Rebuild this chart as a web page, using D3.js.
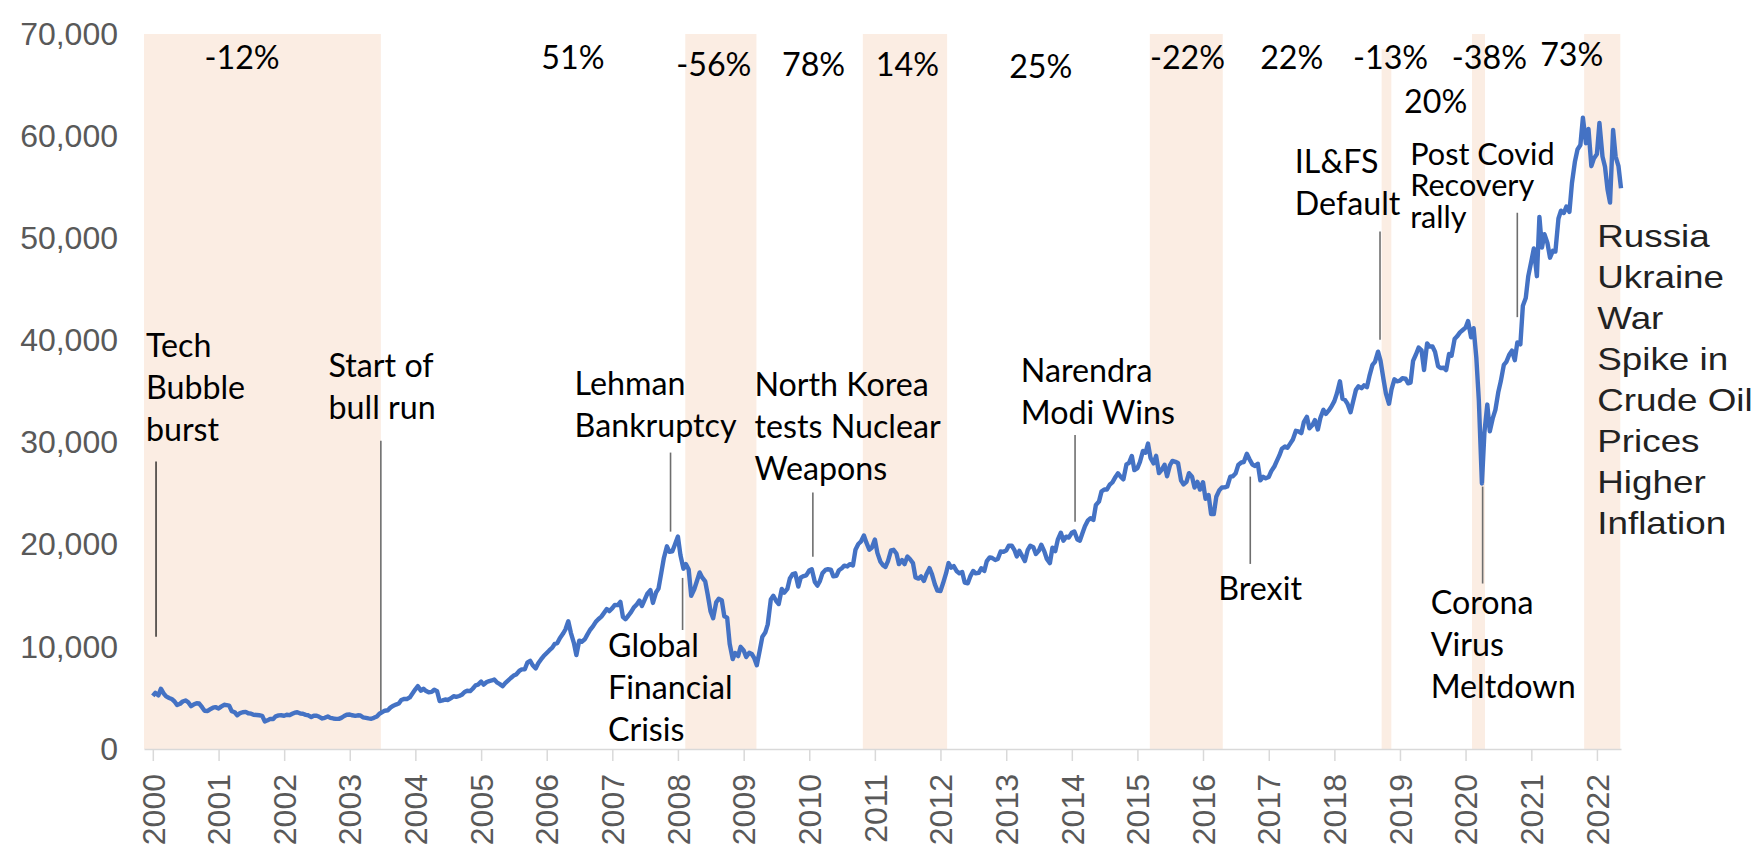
<!DOCTYPE html>
<html>
<head>
<meta charset="utf-8">
<script src="https://cdn.jsdelivr.net/npm/d3@7"></script>
<style>
  body { margin: 0; background: #fff; }
  svg { display: block; background: #fff; }
  .axis text { font-family: "Liberation Sans", Arial, sans-serif; fill: #595959; }
  .note { font-family: Lato, "Open Sans", sans-serif; fill: #000; }
</style>
</head>
<body>
<svg id="chart" width="1759" height="845"></svg>
<script>
// Sensex level on the 1st and 15th of every month, Jan 2000 .. May 2022
var sensex = [
  // 2000
  5200, 5500, 5250, 5900, 5450, 5150, 5000, 4900, 4650, 4300, 4430, 4650, 4750, 4600, 4200, 4350, 4480, 4450, 4090, 3750, 3710, 3900, 4040, 4100,
  // 2001
  3970, 4150, 4330, 4300, 4250, 3700, 3600, 3300, 3520, 3600, 3630, 3500, 3460, 3350, 3330, 3300, 3250, 2700, 2810, 2950, 2940, 3200, 3290, 3300,
  // 2002
  3260, 3350, 3310, 3450, 3560, 3600, 3470, 3450, 3340, 3300, 3130, 3250, 3250, 3150, 2990, 3050, 3180, 3050, 2990, 2950, 2950, 3050, 3230, 3350,
  // 2003
  3380, 3300, 3250, 3300, 3280, 3100, 3050, 3000, 2960, 3050, 3180, 3450, 3610, 3750, 3790, 4050, 4240, 4350, 4450, 4800, 4910, 4900, 5050, 5400,
  // 2004
  5840, 6150, 5700, 5900, 5670, 5550, 5590, 5800, 5660, 4700, 4760, 4850, 4800, 4950, 5170, 5100, 5190, 5300, 5580, 5700, 5670, 5900, 6230, 6300,
  // 2005
  6600, 6300, 6560, 6650, 6710, 6800, 6490, 6350, 6150, 6450, 6720, 6950, 7190, 7300, 7640, 7800, 7810, 8450, 8630, 8200, 7890, 8400, 8790, 9100,
  // 2006
  9400, 9650, 9920, 10300, 10370, 10850, 11280, 11700, 12500, 11400, 10400, 9200, 10610, 10500, 10740, 11200, 11700, 12000, 12450, 12700, 12960, 13300, 13700, 13500,
  // 2007
  13790, 14100, 14090, 14400, 12940, 12700, 13070, 13400, 13870, 14100, 14540, 14000, 14650, 15200, 15550, 14300, 15320, 15700, 17290, 18700, 19840, 19300, 19360, 20000,
  // 2008
  20800, 19000, 17650, 18100, 17580, 15000, 15640, 16400, 17290, 16800, 16420, 15100, 13460, 12800, 14360, 14700, 14570, 13000, 12860, 10300, 8800, 9400, 9100, 10000,
  // 2009
  9650, 9000, 9420, 9300, 8890, 8200, 9710, 11000, 11400, 12200, 14630, 15000, 14490, 14200, 15670, 15300, 15670, 16700, 17130, 17200, 15900, 16800, 16930, 17000,
  // 2010
  17470, 17600, 16360, 16000, 16430, 17200, 17530, 17600, 17560, 16900, 16950, 17500, 17700, 17950, 17870, 18100, 17970, 19500, 20070, 20300, 20900, 20200, 19520, 19700,
  // 2011
  20510, 19200, 18330, 18000, 17820, 18400, 19450, 19500, 19140, 18100, 18500, 18100, 18850, 18600, 18200, 16800, 16680, 16900, 16450, 17100, 17710, 17100, 16120, 15500,
  // 2012
  15460, 16200, 17190, 18200, 17750, 17900, 17400, 17200, 17320, 16300, 16220, 16900, 17430, 17200, 17240, 17700, 17430, 18400, 18760, 18700, 18500, 18600, 19340, 19300,
  // 2013
  19430, 19900, 19900, 19500, 18860, 19400, 18840, 18400, 19500, 19900, 19760, 19100, 19400, 20000, 19350, 18600, 18200, 19700, 19380, 20500, 21170, 20400, 20790, 20700,
  // 2014
  21170, 21300, 20510, 20400, 21120, 21800, 22390, 22600, 22420, 23900, 24220, 25200, 25410, 25400, 25900, 26100, 26640, 27000, 26630, 26400, 27870, 28000, 28690, 27300,
  // 2015
  27500, 28100, 29180, 29000, 29900, 28500, 27960, 28700, 27010, 27300, 27830, 26700, 27780, 28200, 28110, 28000, 26280, 25900, 26150, 27000, 26660, 25600, 26150, 25400,
  // 2016
  26120, 24500, 24870, 23000, 23000, 24700, 25340, 25600, 25610, 25700, 26670, 26700, 27000, 27800, 28050, 28100, 28900, 28400, 27870, 27700, 27930, 26300, 26650, 26500,
  // 2017
  26630, 27200, 27660, 28200, 28740, 29400, 29620, 29500, 29920, 30300, 31150, 31100, 30920, 32000, 32520, 31400, 31730, 32200, 31280, 32400, 33210, 32800, 33150, 33500,
  // 2018
  34060, 34800, 36000, 34300, 34180, 33800, 32970, 34000, 35160, 35500, 35320, 35600, 35420, 36500, 37610, 37900, 38900, 38000, 36230, 34800, 33800, 35200, 36190, 36000,
  // 2019
  36070, 36300, 36260, 35800, 35870, 38000, 38670, 39300, 39030, 37100, 39710, 39400, 39400, 38900, 37480, 37300, 37330, 37100, 38670, 38500, 40130, 40400, 40790, 41000,
  // 2020
  41250, 41900, 40300, 41200, 38300, 34100, 26000, 31000, 33720, 31100, 32420, 33200, 34920, 36000, 37610, 37900, 38630, 39000, 38070, 39800, 39610, 43400, 44150, 46300,
  // 2021
  47750, 49000, 46290, 52100, 49100, 50400, 49510, 48100, 48780, 48700, 51940, 52700, 52480, 53100, 52590, 55400, 57550, 58700, 59130, 61800, 59310, 60700, 57060, 57800,
  // 2022
  58250, 61300, 58010, 57000, 54800, 53500, 60600, 58000, 57060, 54900
];

var yTicks = [0, 10000, 20000, 30000, 40000, 50000, 60000, 70000];

// shaded drawdown periods
var bandStart = ["1999-11-13", "2008-02-11", "2010-10-26", "2015-03-11", "2018-09-21", "2020-02-06", "2021-10-22"];
var bandEnd   = ["2003-06-23", "2009-03-13", "2012-02-07", "2016-04-20", "2018-11-14", "2020-04-18", "2022-05-11"];
var bandTop   = [70000, 70000, 70000, 70000, 68500, 70000, 70000];

// period returns
var retText  = ["-12%", "51%", "-56%", "78%", "14%", "25%", "-22%", "22%", "-13%", "20%", "-38%", "73%"];
var retDate  = ["2001-05-12", "2006-05-27", "2008-07-19", "2010-01-25", "2011-07-01", "2013-07-12",
                "2015-10-07", "2017-05-09", "2018-11-10", "2019-07-19", "2020-05-13", "2021-08-14"];
var retValue = [66600, 66600, 65900, 65900, 65900, 65700, 66600, 66600, 66600, 62300, 66600, 66900];

// event notes: text lines, label anchor (date, value), leader line (date, from, to)
var events = [
  { lines: ["Tech", "Bubble", "burst"], at: "1999-11-24", v: 38420, lead: ["2000-01-19", 28140, 11000], dark: true },
  { lines: ["Start of", "bull run"], at: "2002-09-05", v: 36460, lead: ["2003-06-23", 30190, 3500] },
  { lines: ["Lehman", "Bankruptcy"], at: "2006-06-05", v: 34700, lead: ["2007-11-21", 29020, 21280] },
  { lines: ["Global", "Financial", "Crisis"], at: "2006-12-08", v: 9010, lead: ["2008-01-27", 16750, 11650] },
  { lines: ["North Korea", "tests Nuclear", "Weapons"], at: "2009-03-02", v: 34570, lead: ["2010-01-21", 25100, 18830] },
  { lines: ["Narendra", "Modi Wins"], at: "2013-03-23", v: 35910, lead: ["2014-01-19", 30750, 22260] },
  { lines: ["Brexit"], at: "2016-03-26", v: 14590, lead: ["2016-09-20", 26670, 18120] },
  { lines: ["IL&FS", "Default"], at: "2017-05-26", v: 56410, lead: ["2018-09-12", 50660, 40060] },
  { lines: ["Post Covid", "Recovery", "rally"], at: "2019-02-27", v: 57200, lead: ["2020-10-15", 52500, 42280], tight: true },
  { lines: ["Corona", "Virus", "Meltdown"], at: "2019-06-21", v: 13220, lead: ["2020-04-05", 25690, 16200] }
];

var warLines = ["Russia", "Ukraine", "War", "Spike in", "Crude Oil", "Prices", "Higher", "Inflation"];
var warAt = "2022-01-03", warValue = 49170;

var svg = d3.select("#chart");
var parse = d3.timeParse("%Y-%m-%d");

var x = d3.scaleTime()
  .domain([new Date(1999, 10, 13), new Date(2022, 4, 15)])
  .range([144, 1621]);

var y = d3.scaleLinear()
  .domain([0, 70000])
  .range([749, 34]);

var start = new Date(2000, 0, 1);
var series = sensex.map(function(v, i) {
  var m = d3.timeMonth.offset(start, Math.floor(i / 2));
  return { date: i % 2 ? d3.timeDay.offset(m, 14) : m, value: v };
});

// bands
svg.append("g").selectAll("rect")
  .data(bandStart)
  .join("rect")
  .attr("x", function(d) { return x(parse(d)); })
  .attr("width", function(d, i) { return x(parse(bandEnd[i])) - x(parse(d)); })
  .attr("y", function(d, i) { return y(bandTop[i]); })
  .attr("height", function(d, i) { return y(0) - y(bandTop[i]); })
  .attr("fill", "#fbede3");

// axes
var xAxis = svg.append("g")
  .attr("class", "axis")
  .attr("transform", "translate(0," + y(0) + ")")
  .call(d3.axisBottom(x).ticks(d3.timeYear.every(1)).tickSize(12).tickSizeOuter(0).tickFormat(d3.timeFormat("%Y")));
xAxis.select(".domain").attr("stroke", "#d9d9d9").attr("stroke-width", 1.5);
xAxis.selectAll(".tick line").attr("stroke", "#d9d9d9").attr("stroke-width", 1.5);
xAxis.selectAll(".tick text")
  .attr("transform", "rotate(-90)")
  .attr("x", -25)
  .attr("y", 0)
  .attr("dy", "0.35em")
  .style("text-anchor", "end")
  .style("font-size", "32px");

var yAxis = svg.append("g")
  .attr("class", "axis")
  .attr("transform", "translate(128,0)")
  .call(d3.axisLeft(y).tickValues(yTicks).tickSize(0).tickPadding(10).tickFormat(d3.format(",")));
yAxis.select(".domain").remove();
yAxis.selectAll(".tick text").style("font-size", "32px");

// leader lines
svg.append("g").selectAll("line")
  .data(events)
  .join("line")
  .attr("x1", function(d) { return x(parse(d.lead[0])); })
  .attr("x2", function(d) { return x(parse(d.lead[0])); })
  .attr("y1", function(d) { return y(d.lead[1]); })
  .attr("y2", function(d) { return y(d.lead[2]); })
  .attr("stroke", function(d) { return d.dark ? "#000" : "#6e6e6e"; })
  .attr("stroke-width", function(d) { return d.dark ? 1.2 : 1.6; });

// index line
var line = d3.line()
  .x(function(d) { return x(d.date); })
  .y(function(d) { return y(d.value); });

svg.append("path")
  .datum(series)
  .attr("fill", "none")
  .attr("stroke", "#4472c4")
  .attr("stroke-width", 4.4)
  .attr("stroke-linejoin", "round")
  .attr("d", line);

// size the Calibri stand-in so that "Bankruptcy" is as wide as in the original
var probe = svg.append("text").attr("class", "note").style("font-size", "34px").text("Bankruptcy");
var noteSize = 34 * 162 / probe.node().getComputedTextLength();
probe.remove();

// return labels
svg.append("g").selectAll("text")
  .data(retText)
  .join("text")
  .attr("class", "note")
  .attr("x", function(d, i) { return x(parse(retDate[i])); })
  .attr("y", function(d, i) { return y(retValue[i]); })
  .attr("text-anchor", "middle")
  .style("font-size", noteSize + "px")
  .text(function(d) { return d; });

// event labels
events.forEach(function(ev) {
  var size = ev.tight ? noteSize * 0.95 : noteSize;
  var t = svg.append("text")
    .attr("class", "note")
    .attr("x", x(parse(ev.at)))
    .attr("y", y(ev.v))
    .style("font-size", size + "px");
  t.selectAll("tspan")
    .data(ev.lines)
    .join("tspan")
    .attr("x", x(parse(ev.at)))
    .attr("dy", function(d, i) { return i ? (ev.tight ? 31.7 : 42) : 0; })
    .text(function(d) { return d; });
});

// war note (stretched Arial text box)
var wx = x(parse(warAt)), wy = y(warValue);
var war = svg.append("text")
  .attr("transform", "translate(" + wx + "," + wy + ") scale(1.15,1)")
  .style("font-family", "'Liberation Sans', Arial, sans-serif")
  .style("font-size", "32px")
  .attr("fill", "#222");
war.selectAll("tspan")
  .data(warLines)
  .join("tspan")
  .attr("x", 0)
  .attr("dy", function(d, i) { return i ? 41 : 0; })
  .text(function(d) { return d; });
</script>
</body>
</html>
